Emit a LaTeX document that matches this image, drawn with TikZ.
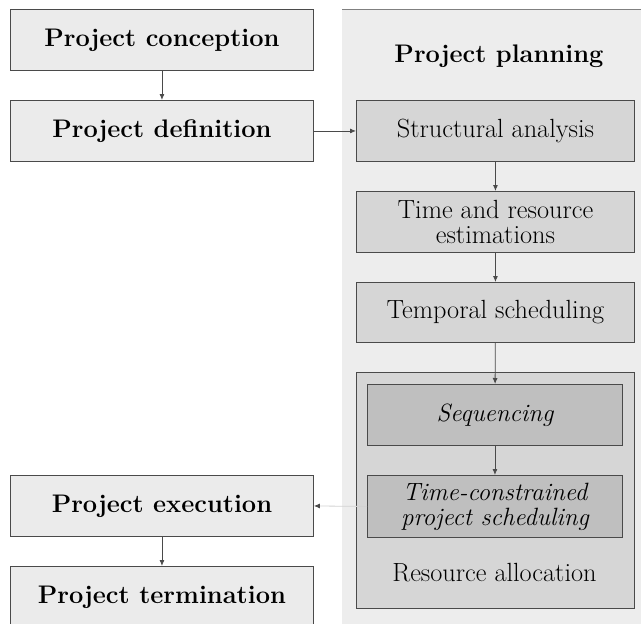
\documentclass[tikz,border=0pt]{standalone}
\usetikzlibrary{arrows.meta}
\definecolor{lightbox}{HTML}{EBEBEB}
\definecolor{panelbg}{HTML}{EDEDED}
\definecolor{midbox}{HTML}{D6D6D6}
\definecolor{darkbox}{HTML}{BFBFBF}
\definecolor{edgec}{HTML}{4A4A4A}
\tikzset{
  box/.style={draw=edgec, line width=0.9pt, inner sep=0pt, anchor=north west, align=center},
  leftbox/.style={box, fill=lightbox, minimum width=303pt, minimum height=61pt, font=\fontsize{25.4}{26}\selectfont\bfseries},
  planbox/.style={box, fill=midbox, minimum width=278pt, minimum height=61pt, font=\fontsize{26.3}{25}\selectfont},
  subbox/.style={box, fill=darkbox, minimum width=255pt, minimum height=61pt, font=\fontsize{25}{25}\selectfont\itshape},
  arr/.style={-{Latex[length=6pt,width=5pt]}, draw=edgec, line width=0.8pt},
}
\begin{document}
\begin{tikzpicture}[x=1pt,y=-1pt]
\useasboundingbox (0,0) rectangle (641,624);
% planning panel
\fill[panelbg] (342,9) rectangle (645,630);
\draw[gray, line width=0.8pt] (342,9) -- (645,9);
\node[font=\fontsize{25.4}{26}\selectfont\bfseries] (plan) at (499,56) {Project planning};
% left column
\node[leftbox] (conc) at (10,9) {Project conception};
\node[leftbox] (def) at (10,100) {Project definition};
\node[leftbox] (exec) at (10,475) {Project execution};
\node[leftbox] (term) at (10,566) {Project termination};
% planning boxes
\node[planbox] (struct) at (356,100) {Structural analysis};
\node[planbox] (time) at (356,191) {Time and resource\\estimations};
\node[planbox, minimum height=60pt] (temp) at (356,282) {Temporal scheduling};
\node[planbox, minimum height=236pt] (res) at (356,372) {};
\node[font=\fontsize{26.3}{25}\selectfont] (reslabel) at (494.5,573) {Resource allocation};
\node[subbox] (seq) at (367,384) {Sequencing};
\node[subbox, minimum height=62pt] (tc) at (367,475) {Time-constrained\\project scheduling};
% connectors
\draw[arr] (conc) -- (def);
\draw[arr] (def) -- (struct);
\draw[arr] (struct) -- (time);
\draw[arr] (time) -- (temp);
\draw[arr] (temp) -- (seq);
\draw[arr] (seq) -- (tc);
\draw[arr] (exec) -- (term);
\draw[-{Latex[length=6pt,width=5pt,color=edgec]}, draw=gray!35, line width=0.8pt] (tc.west) -- (exec.east);
\end{tikzpicture}
\end{document}
